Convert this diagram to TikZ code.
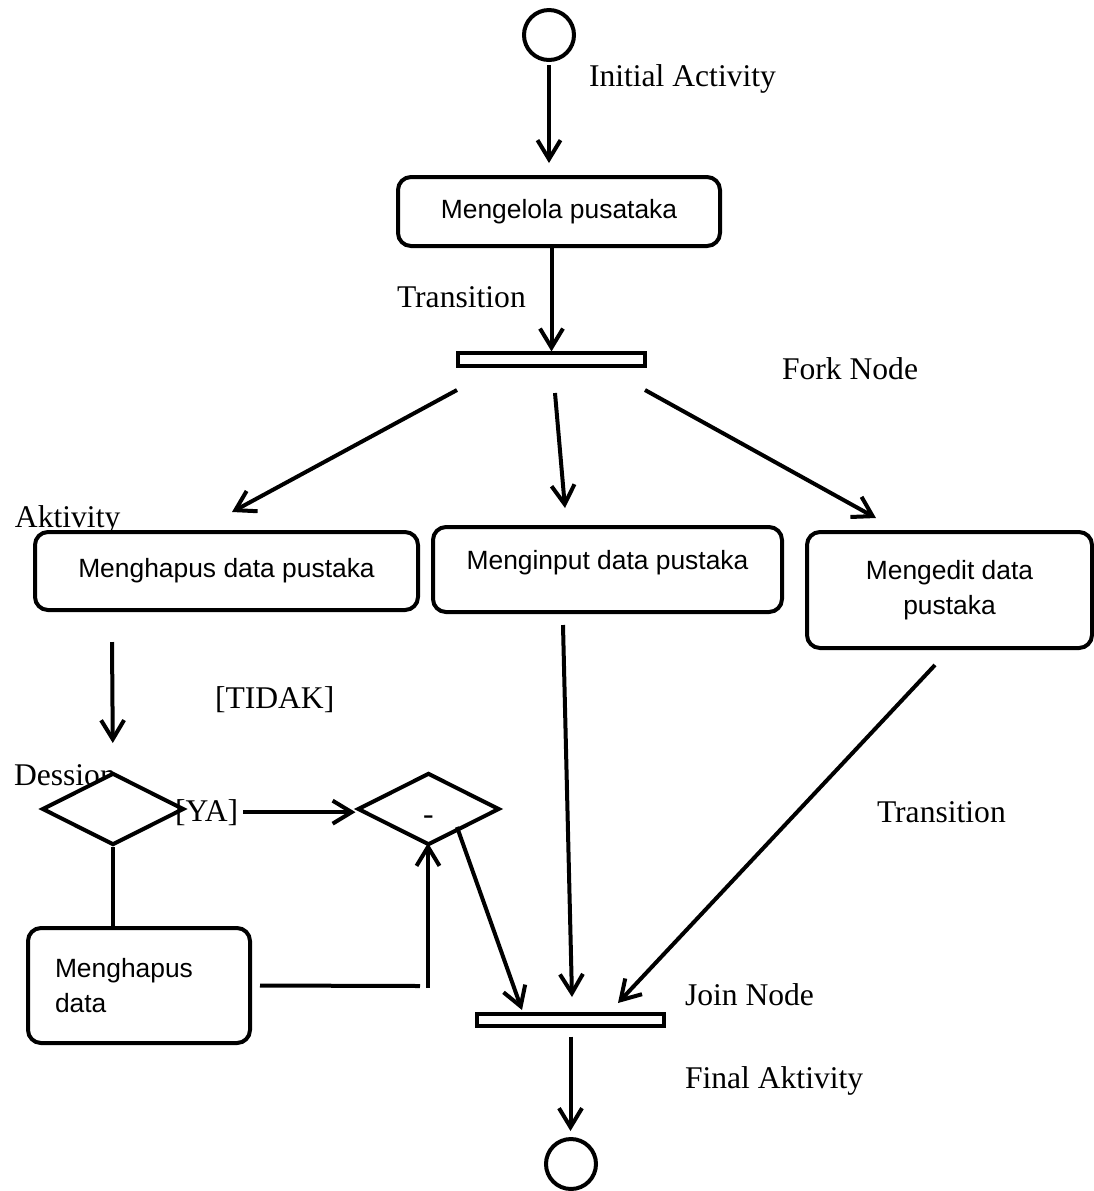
\documentclass[tikz,border=0pt]{standalone}
\usepackage{fontspec}
\setmainfont{Liberation Serif}
\setsansfont{Liberation Sans}
\usetikzlibrary{arrows.meta,shapes.geometric}

\begin{document}
\begin{tikzpicture}[x=0.5pt,y=-0.5pt,line width=2pt,
  >={Straight Barb[length=9.5pt,width=11.5pt]},
  actbox/.style={draw,fill=white,rounded corners=6.5pt,inner sep=0pt,
    font=\sffamily\fontsize{13.2}{17.5}\selectfont,align=center},
  bar/.style={draw,fill=white,line width=1.6pt,inner sep=0pt,minimum width=93.5pt},
  startend/.style={circle,draw,fill=white,inner sep=0pt,minimum size=25pt},
  decision/.style={diamond,draw,fill=white,inner sep=0pt,
    minimum width=71pt,minimum height=36pt},
  note/.style={inner sep=0pt,anchor=base west,font=\fontsize{15.8}{19}\selectfont}]

\useasboundingbox (0,0) rectangle (1094,1191);

\node[note] (aktlbl) at (13,527) {Aktivity};
\node[note] (deslbl) at (12,785) {Dession};

\node[startend] (init) at (549,35) {};
\node[actbox,minimum width=161pt,minimum height=34.5pt] (kelola) at (559,211.5) {Mengelola pusataka};
\node[bar,minimum height=6.5pt] (fork) at (551.5,359.5) {};
\node[actbox,minimum width=191.5pt,minimum height=39pt] (hapus) at (226.5,571) {Menghapus data pustaka};
\node[actbox,minimum width=174.5pt,minimum height=42.5pt,text height=9.6pt,text depth=9.6pt] (input) at (607.5,569.5) {Menginput data pustaka};
\node[actbox,minimum width=142.5pt,minimum height=58pt] (edit) at (949.5,590) {Mengedit data\\pustaka};
\node[decision] (tanya) at (113,809) {};
\node[decision,font=\fontsize{15.8}{19}\selectfont,text height=15pt,text depth=0pt] (cek) at (428.5,809) {-};
\node[actbox,align=left,text width=84pt,minimum width=111pt,minimum height=57.5pt] (hd) at (139,985.5) {Menghapus\\data};
\node[bar,minimum height=6pt] (join) at (570.5,1020) {};
\node[startend] (final) at (571,1164) {};

\node[note] (initlbl) at (587,86) {Initial Activity};
\node[note] (translbl) at (395,307) {Transition};
\node[note] (forklbl) at (780,379) {Fork Node};
\node[note] (tidak) at (213,708) {[TIDAK]};
\node[note] (ya) at (173,821) {[YA]};
\node[note] (trans2lbl) at (875,822) {Transition};
\node[note] (joinlbl) at (683,1005) {Join Node};
\node[note] (finallbl) at (683,1088) {Final Aktivity};

\coordinate (forkL) at (457,390);   \coordinate (toHapus) at (232,512);
\coordinate (forkM) at (555,393);   \coordinate (toInput) at (565,508);
\coordinate (forkR) at (645,390);   \coordinate (toEdit) at (876,518);
\coordinate (hapusOut) at (112,642);
\coordinate (bendL) at (420,986);   \coordinate (bendU) at (428,988);
\coordinate (cekOut) at (457,827);  \coordinate (joinA) at (522,1010);
\coordinate (inputOut) at (563,625); \coordinate (joinB) at (572,997);
\coordinate (editOut) at (935,665); \coordinate (joinC) at (618,1003);

\draw[->,shorten <=1.5pt,shorten >=6pt] (init.south) -- (init.south |- kelola.north);
\draw[->] (kelola.south -| fork.north) -- (fork.north);

\draw[->] (forkL) -- (toHapus);
\draw[->] (forkM) -- (toInput);
\draw[->] (forkR) -- (toEdit);

\draw[->,shorten >=14pt] (hapusOut) -- (tanya.north);
\draw[->,shorten <=1.5pt] (ya.east) -- (ya.east -| cek.west);
\draw (tanya.south) -- (tanya.south |- hd.north);
\draw[shorten <=4pt] (hd.east) -- (bendL);
\draw[->,shorten >=-2pt] (bendU) -- (bendU |- cek.south);

\draw[->] (cekOut) -- (joinA);
\draw[->] (inputOut) -- (joinB);
\draw[->] (editOut) -- (joinC);
\draw[->,shorten <=4.5pt,shorten >=3pt] (join.south) -- (join.south |- final.north);

\end{tikzpicture}
\end{document}
